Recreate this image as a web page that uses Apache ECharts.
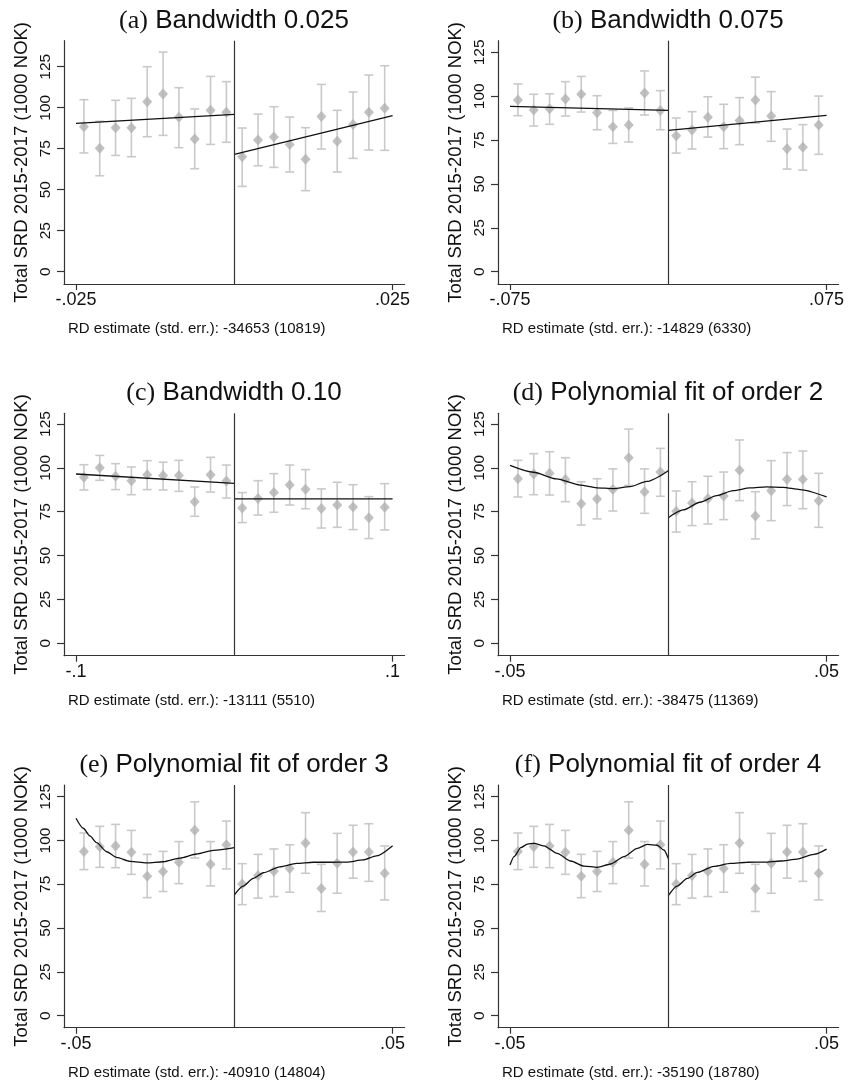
<!DOCTYPE html>
<html>
<head>
<meta charset="utf-8">
<script src="https://cdn.jsdelivr.net/npm/echarts@6/dist/echarts.min.js"></script>
<style>
  html, body { margin: 0; padding: 0; background: #ffffff; }
  #chart { width: 848px; height: 1083px; }
</style>
</head>
<body>
<div id="chart"></div>
<script>
// ---- Binned means with 95% confidence bounds (1000 NOK) ----
const binsA = [-0.02375, -0.02125, -0.01875, -0.01625, -0.01375, -0.01125, -0.00875, -0.00625, -0.00375, -0.00125,
               0.00125, 0.00375, 0.00625, 0.00875, 0.01125, 0.01375, 0.01625, 0.01875, 0.02125, 0.02375];
const meanA = [88.4, 75.2, 87.8, 87.8, 103.7, 108.3, 94.1, 80.9, 98.4, 97.2,
               70.1, 80.3, 82.1, 77.6, 68.5, 94.7, 79.5, 89.8, 97.2, 99.6];
const hiA   = [104.9, 91.7, 104.5, 105.7, 125.0, 133.9, 112.2, 99.2, 119.1, 115.9,
               87.6, 96.1, 100.6, 94.3, 87.8, 114.2, 98.4, 109.6, 119.9, 125.6];
const loA   = [72.4, 58.5, 70.9, 70.1, 82.3, 83.1, 75.6, 62.8, 77.6, 78.9,
               52.0, 64.6, 63.6, 60.8, 49.4, 74.8, 60.8, 69.1, 74.2, 74.0];

const binsB = [-0.07125, -0.06375, -0.05625, -0.04875, -0.04125, -0.03375, -0.02625, -0.01875, -0.01125, -0.00375,
               0.00375, 0.01125, 0.01875, 0.02625, 0.03375, 0.04125, 0.04875, 0.05625, 0.06375, 0.07125];
const meanB = [97.8, 92.1, 92.9, 98.4, 101.1, 90.6, 82.6, 83.6, 101.8, 91.9,
               77.5, 80.7, 88.0, 82.6, 86.1, 97.8, 88.7, 70.1, 70.9, 83.6];
const hiB   = [107.0, 101.1, 101.4, 108.3, 111.3, 100.3, 91.9, 93.3, 114.4, 103.2,
               87.6, 91.2, 99.7, 95.4, 99.2, 110.9, 102.6, 81.3, 83.8, 100.1];
const loB   = [88.9, 83.0, 84.0, 88.7, 91.0, 80.9, 73.1, 73.9, 89.3, 80.9,
               67.6, 69.9, 76.7, 70.1, 72.4, 84.7, 74.3, 58.5, 57.9, 66.9];

const binsC = [-0.095, -0.085, -0.075, -0.065, -0.055, -0.045, -0.035, -0.025, -0.015, -0.005,
               0.005, 0.015, 0.025, 0.035, 0.045, 0.055, 0.065, 0.075, 0.085, 0.095];
const meanC = [94.6, 100.1, 95.2, 92.7, 96.1, 95.6, 95.6, 80.7, 96.1, 92.5,
               77.1, 82.6, 85.9, 90.2, 87.8, 76.9, 78.8, 77.7, 71.6, 77.5];
const hiC   = [101.8, 107.1, 102.4, 100.5, 104.1, 103.2, 104.3, 89.1, 106.0, 101.6,
               85.9, 92.7, 96.7, 101.6, 99.0, 88.0, 91.8, 90.4, 83.6, 91.0];
const loC   = [87.4, 92.9, 87.6, 84.7, 87.6, 87.4, 86.6, 72.4, 86.2, 82.8,
               68.8, 73.1, 74.7, 78.8, 76.7, 65.7, 66.1, 64.8, 59.7, 64.6];

// bandwidth 0.05 bins, shared by the three polynomial panels
const binsD = [-0.0475, -0.0425, -0.0375, -0.0325, -0.0275, -0.0225, -0.0175, -0.0125, -0.0075, -0.0025,
               0.0025, 0.0075, 0.0125, 0.0175, 0.0225, 0.0275, 0.0325, 0.0375, 0.0425, 0.0475];
const meanD = [93.8, 96.5, 96.9, 93.3, 79.6, 82.3, 87.6, 105.8, 86.4, 97.6,
               75.2, 80.0, 82.4, 84.0, 98.6, 72.6, 87.0, 93.5, 93.5, 81.3];
const hiD   = [104.3, 108.1, 109.2, 105.8, 92.1, 93.8, 99.4, 122.1, 99.4, 111.1,
               86.8, 92.1, 95.2, 97.6, 115.9, 86.4, 104.1, 108.7, 109.6, 96.9];
const loD   = [83.4, 84.7, 84.5, 80.7, 67.4, 70.9, 75.4, 90.0, 74.1, 83.8,
               63.4, 67.1, 68.0, 70.5, 81.3, 59.5, 69.9, 78.5, 76.7, 66.1];

// ---- Fitted regression lines on each side of the cutoff ----
const fitALeft  = [[-0.025, 90.4], [0, 95.9]];
const fitARight = [[0, 71.5], [0.025, 95.1]];
const fitBLeft  = [[-0.075, 94.2], [0, 91.9]];
const fitBRight = [[0, 80.5], [0.075, 89.1]];
const fitCLeft  = [[-0.1, 96.5], [0, 91.2]];
const fitCRight = [[0, 82.3], [0.1, 82.3]];
const fitDLeft  = [[-0.05, 101.4], [-0.0426, 97.5], [-0.0353, 93.7], [-0.0279, 90.2], [-0.0226, 88.6],
                   [-0.0174, 88.2], [-0.0121, 89.3], [-0.0068, 92.3], [0, 98.4]];
const fitDRight = [[0, 71.6], [0.0047, 76.0], [0.01, 80.4], [0.0153, 84.2], [0.0205, 87.0], [0.0258, 88.6],
                   [0.0311, 89.2], [0.0363, 88.9], [0.0416, 87.6], [0.05, 83.4]];
const fitELeft  = [[-0.05, 112.7], [-0.0477, 107.0], [-0.0456, 102.6], [-0.0435, 98.8], [-0.0403, 93.6],
                   [-0.0372, 90.4], [-0.0329, 88.1], [-0.0277, 87.2], [-0.0224, 87.9], [-0.0172, 90.0],
                   [-0.0119, 92.3], [-0.0066, 94.4], [0, 95.9]];
const fitERight = [[0, 68.9], [0.0028, 74.0], [0.006, 78.4], [0.0092, 81.6], [0.0144, 85.0], [0.0197, 87.0],
                   [0.0249, 87.6], [0.0302, 87.6], [0.0355, 87.7], [0.0407, 88.9], [0.0449, 91.2], [0.05, 97.0]];
const fitFLeft  = [[-0.05, 86.0], [-0.0487, 90.8], [-0.0466, 95.9], [-0.0445, 98.0], [-0.0424, 98.4],
                   [-0.0393, 97.0], [-0.0351, 92.7], [-0.0308, 88.3], [-0.0266, 85.4], [-0.0224, 84.7],
                   [-0.0182, 86.6], [-0.014, 90.8], [-0.0098, 95.5], [-0.0066, 97.8], [-0.0035, 97.3],
                   [-0.0014, 94.6], [0, 89.8]];
const fitFRight = [[0, 68.5], [0.0028, 74.0], [0.006, 78.4], [0.0092, 81.8], [0.0144, 85.3], [0.0197, 87.0],
                   [0.0249, 87.6], [0.0302, 87.7], [0.0355, 88.3], [0.0407, 89.4], [0.046, 92.1], [0.05, 95.1]];

// ---- Axis ticks, titles and notes ----
const yTicks = [0, 25, 50, 75, 100, 125];
const bandwidths = [0.025, 0.075, 0.1, 0.05, 0.05, 0.05];
const cutoff = 0;
const panelTags = ['(a)', '(b)', '(c)', '(d)', '(e)', '(f)'];
const panelTitles = ['Bandwidth 0.025', 'Bandwidth 0.075', 'Bandwidth 0.10',
                     'Polynomial fit of order 2', 'Polynomial fit of order 3', 'Polynomial fit of order 4'];
const notes = ['RD estimate (std. err.): -34653 (10819)', 'RD estimate (std. err.): -14829 (6330)',
               'RD estimate (std. err.): -13111 (5510)', 'RD estimate (std. err.): -38475 (11369)',
               'RD estimate (std. err.): -40910 (14804)', 'RD estimate (std. err.): -35190 (18780)'];
const yTitle = 'Total SRD 2015-2017 (1000 NOK)';

const panelData = [
  { bins: binsA, mean: meanA, hi: hiA, lo: loA, fits: [fitALeft, fitARight], smooth: false },
  { bins: binsB, mean: meanB, hi: hiB, lo: loB, fits: [fitBLeft, fitBRight], smooth: false },
  { bins: binsC, mean: meanC, hi: hiC, lo: loC, fits: [fitCLeft, fitCRight], smooth: false },
  { bins: binsD, mean: meanD, hi: hiD, lo: loD, fits: [fitDLeft, fitDRight], smooth: true },
  { bins: binsD, mean: meanD, hi: hiD, lo: loD, fits: [fitELeft, fitERight], smooth: true },
  { bins: binsD, mean: meanD, hi: hiD, lo: loD, fits: [fitFLeft, fitFRight], smooth: true }
];

// ---- Layout of the 3x2 grid of plots ----
const GRID_W = 340.6;
const X_PAD = 1.0758; // plot region extends slightly past the outer ticks
const layout = [
  { left: 64,  top: 40.7,  height: 243.3, yMin: -7.5,  yMax: 140.85 },
  { left: 498, top: 40.7,  height: 243.3, yMin: -7.03, yMax: 131.65 },
  { left: 64,  top: 413.3, height: 242.4, yMin: -7.07, yMax: 131.1 },
  { left: 498, top: 413.3, height: 242.4, yMin: -7.07, yMax: 131.1 },
  { left: 64,  top: 785,   height: 242.7, yMin: -6.85, yMax: 131.7 },
  { left: 498, top: 785,   height: 242.7, yMin: -6.85, yMax: 131.7 }
];

const SANS = '"Liberation Sans", Arial, Helvetica, sans-serif';
const SERIF = '"Liberation Serif", "Times New Roman", serif';
const AXIS_COLOR = '#333333';
const BAR_COLOR = '#c9c9c9';
const DOT_COLOR = '#b2b2b2';

function stataNumber(v) {
  const s = String(Math.abs(v)).replace(/^0(?=\.)/, '');
  return (v < 0 ? '-' : '') + s;
}

function renderErrorBar(params, api) {
  const x = api.value(0);
  const top = api.coord([x, api.value(2)]);
  const bot = api.coord([x, api.value(1)]);
  const cap = 4.5;
  const style = { stroke: BAR_COLOR, lineWidth: 1.6 };
  return {
    type: 'group',
    children: [
      { type: 'line', shape: { x1: top[0], y1: top[1], x2: bot[0], y2: bot[1] }, style },
      { type: 'line', shape: { x1: top[0] - cap, y1: top[1], x2: top[0] + cap, y2: top[1] }, style },
      { type: 'line', shape: { x1: bot[0] - cap, y1: bot[1], x2: bot[0] + cap, y2: bot[1] }, style }
    ]
  };
}

const grids = [], xAxes = [], yAxes = [], series = [], graphics = [];

layout.forEach((L, i) => {
  const bw = bandwidths[i];
  const d = panelData[i];
  grids.push({ left: L.left, top: L.top, width: GRID_W, height: L.height, containLabel: false });

  xAxes.push({
    type: 'value', gridIndex: i,
    min: -bw * X_PAD, max: bw * X_PAD,
    axisLine: { show: true, onZero: false, lineStyle: { color: AXIS_COLOR, width: 1.2 } },
    axisTick: { show: true, length: 6, customValues: [-bw, bw], lineStyle: { color: AXIS_COLOR, width: 1.2 } },
    axisLabel: { show: true, customValues: [-bw, bw], margin: 7, color: '#111', fontFamily: SANS, fontSize: 18,
                 formatter: v => stataNumber(v) },
    splitLine: { show: false }
  });

  yAxes.push({
    type: 'value', gridIndex: i,
    min: L.yMin, max: L.yMax,
    name: yTitle, nameLocation: 'middle', nameRotate: 90, nameGap: 33,
    nameTextStyle: { color: '#111', fontFamily: SANS, fontSize: 18.5 },
    axisLine: { show: true, onZero: false, lineStyle: { color: AXIS_COLOR, width: 1.2 } },
    axisTick: { show: true, length: 7, customValues: yTicks, lineStyle: { color: AXIS_COLOR, width: 1.2 } },
    axisLabel: { show: true, customValues: yTicks, rotate: 90, margin: 10, color: '#111', fontFamily: SANS, fontSize: 15.5 },
    splitLine: { show: false }
  });

  series.push({
    type: 'custom', xAxisIndex: i, yAxisIndex: i,
    renderItem: renderErrorBar,
    encode: { x: 0, y: [1, 2] },
    data: d.bins.map((x, k) => [x, d.lo[k], d.hi[k]]),
    z: 1, silent: true
  });

  series.push({
    type: 'scatter', xAxisIndex: i, yAxisIndex: i,
    symbol: 'diamond', symbolSize: [10, 11],
    itemStyle: { color: DOT_COLOR },
    data: d.bins.map((x, k) => [x, d.mean[k]]),
    z: 2, silent: true,
    markLine: {
      silent: true, symbol: 'none', animation: false,
      label: { show: false },
      lineStyle: { color: AXIS_COLOR, width: 1.2, type: 'solid' },
      data: [{ xAxis: cutoff }]
    }
  });

  d.fits.forEach(seg => {
    series.push({
      type: 'line', xAxisIndex: i, yAxisIndex: i,
      data: seg, showSymbol: false, symbol: 'none',
      smooth: d.smooth ? 0.25 : false, smoothMonotone: 'x',
      lineStyle: { color: '#111111', width: 1.3 },
      z: 3, silent: true
    });
  });

  graphics.push({
    type: 'text',
    x: L.left + (GRID_W - 0.6) / 2, y: L.top - 20,
    style: {
      text: '{t|' + panelTags[i] + '}{s| ' + panelTitles[i] + '}',
      align: 'center', verticalAlign: 'middle',
      rich: {
        t: { fontFamily: SERIF, fontSize: 26, fill: '#111' },
        s: { fontFamily: SANS, fontSize: 26, fill: '#111' }
      }
    }
  });

  graphics.push({
    type: 'text',
    x: L.left + 4, y: L.top + L.height + 45,
    style: {
      text: notes[i], fontFamily: SANS, fontSize: 15, fill: '#111',
      align: 'left', verticalAlign: 'middle'
    }
  });
});

const chart = echarts.init(document.getElementById('chart'), null, { renderer: 'canvas' });
chart.setOption({
  backgroundColor: '#ffffff',
  animation: false,
  grid: grids,
  xAxis: xAxes,
  yAxis: yAxes,
  series: series,
  graphic: graphics
});
</script>
</body>
</html>
